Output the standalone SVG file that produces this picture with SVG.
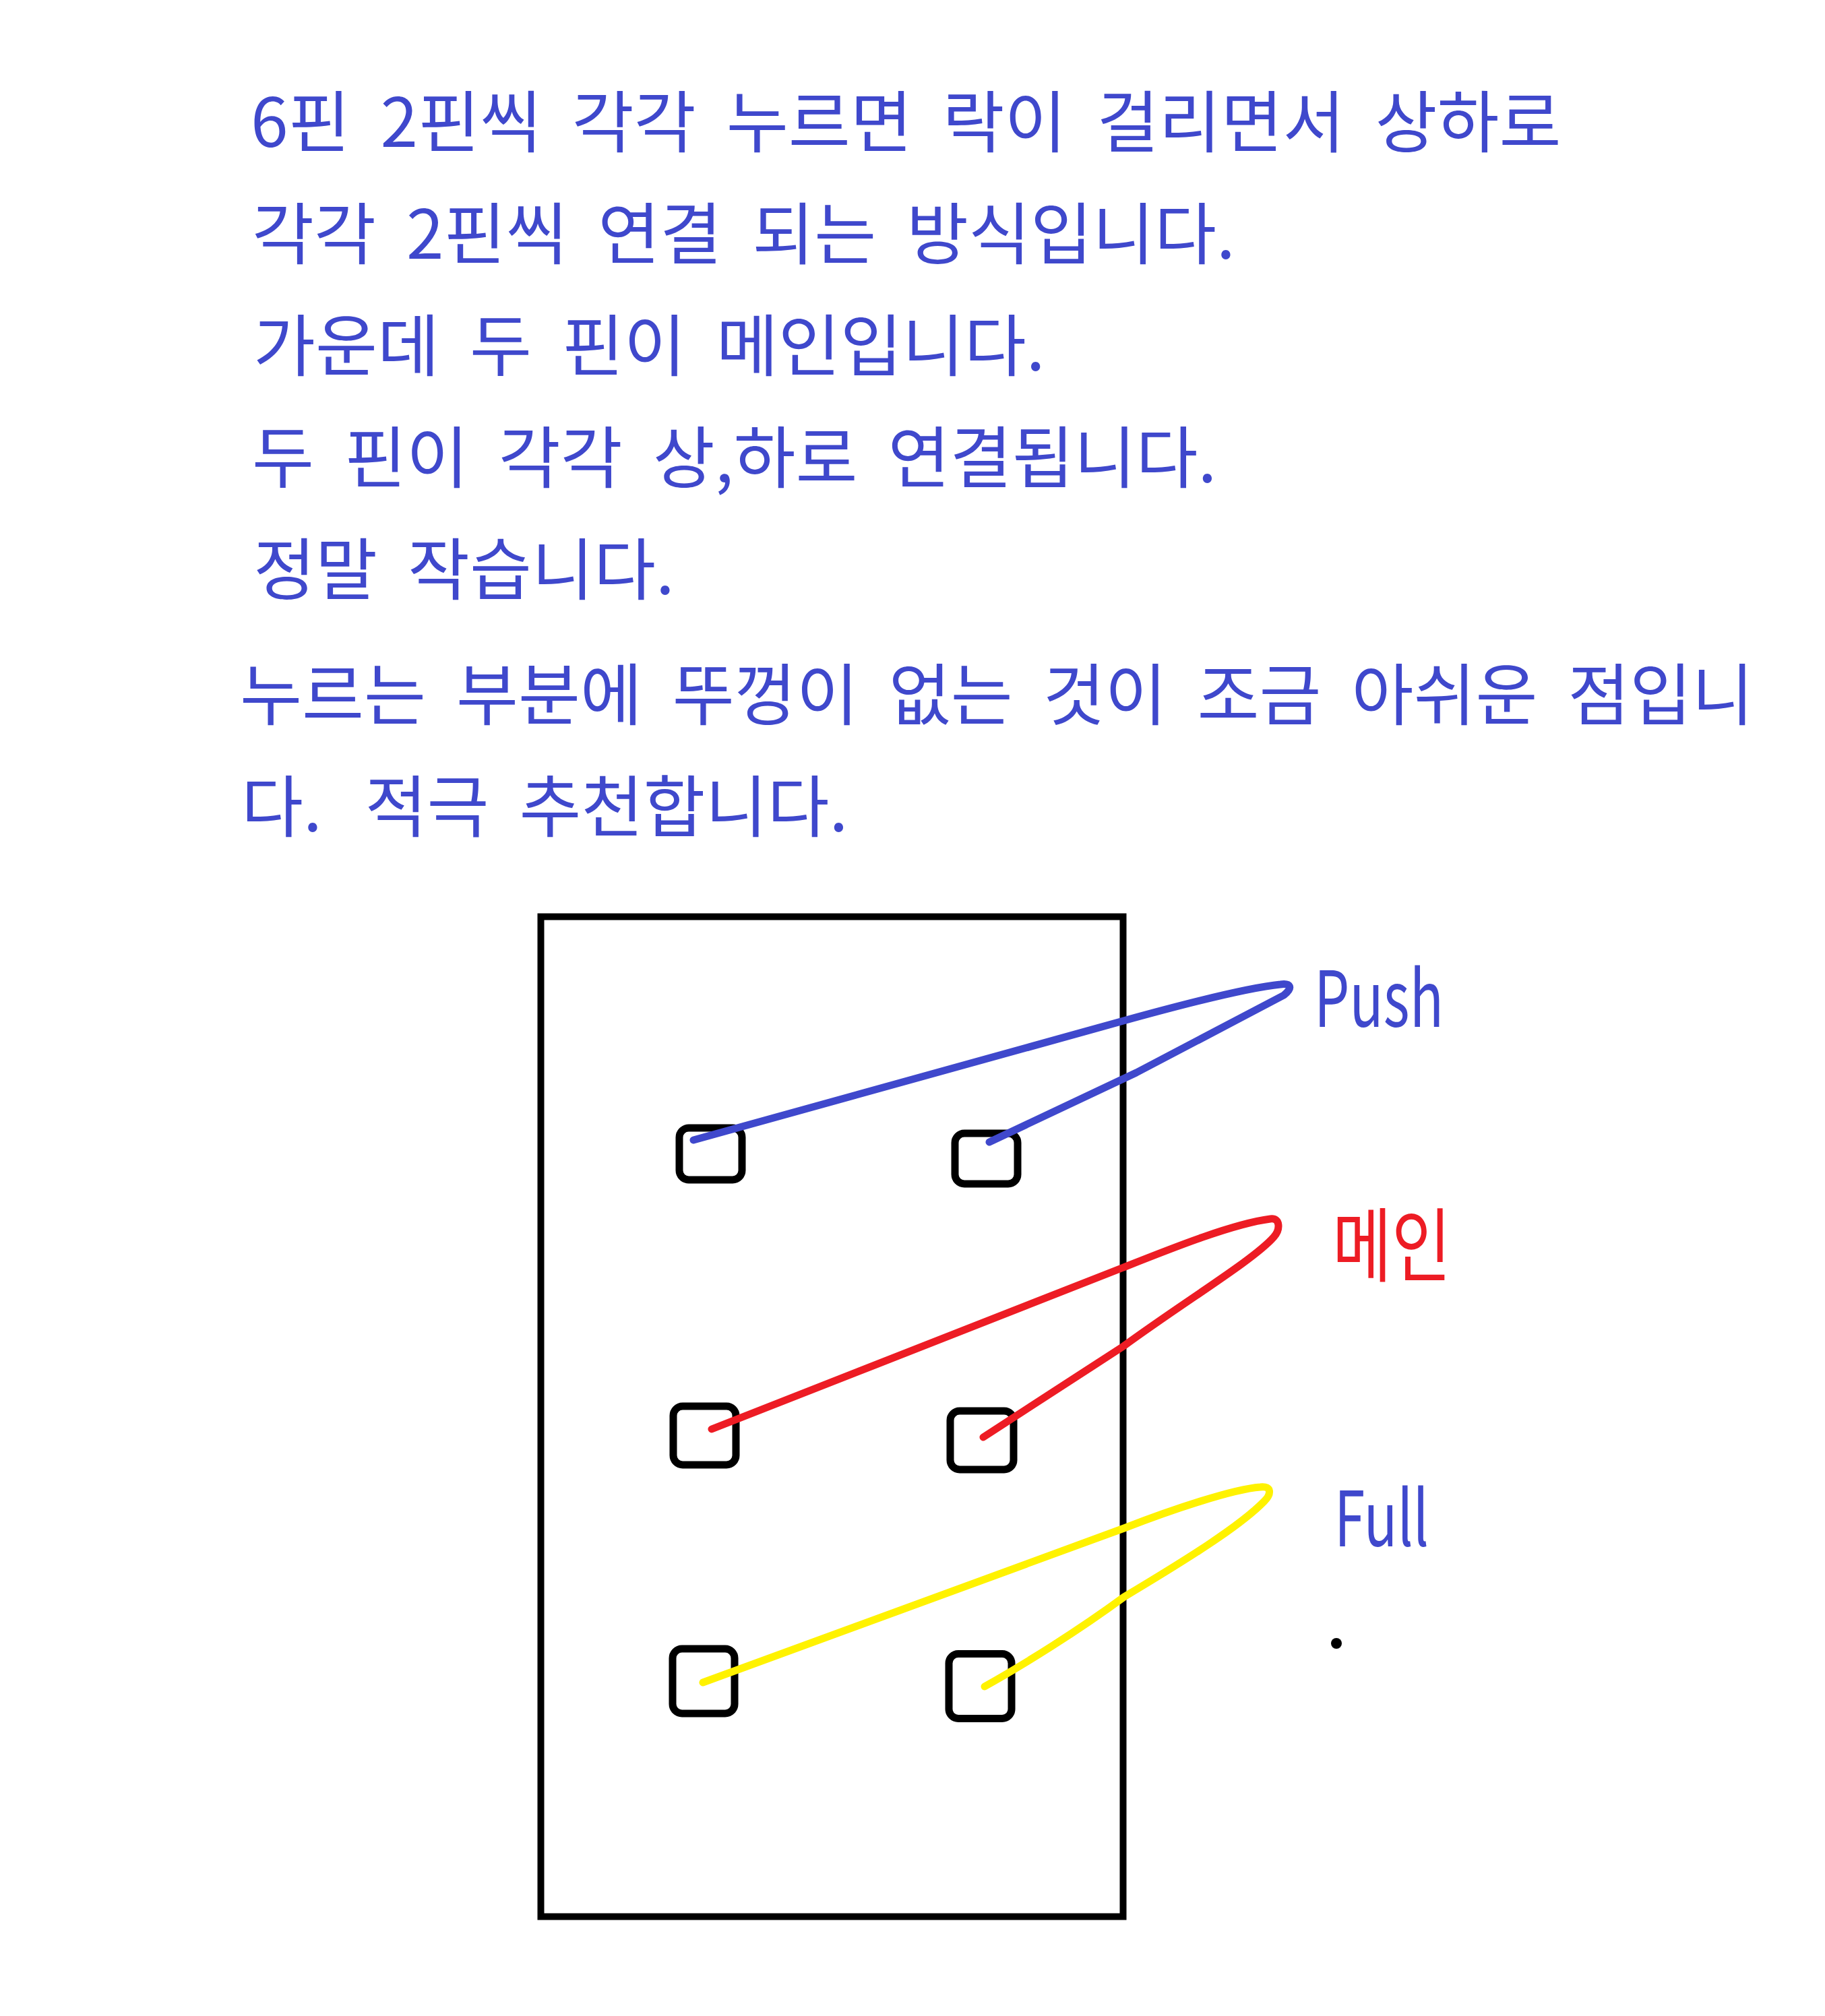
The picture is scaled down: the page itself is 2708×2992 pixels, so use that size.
<svg xmlns="http://www.w3.org/2000/svg" width="2708" height="2992" viewBox="0 0 2708 2992">
<style>
.t{font-family:"Noto Sans CJK KR","Noto Sans",sans-serif;font-size:100px;fill:#3f48cc;font-weight:400;word-spacing:22.5px;white-space:pre}
.l{font-family:"Noto Sans CJK KR","Noto Sans",sans-serif;fill:#3f48cc;font-weight:400}
.box{fill:none;stroke:#000;stroke-width:10}
.pin{fill:none;stroke:#000;stroke-width:11}
.w{fill:none;stroke-width:11;stroke-linecap:round;stroke-linejoin:round}
</style>
<rect width="2708" height="2992" fill="#fff"/>
<g id="text">
<text class="t" x="372" y="218">6핀 2핀씩 각각 누르면 락이 걸리면서 상하로</text>
<text class="t" x="374" y="384">각각 2핀씩 연결 되는 방식입니다.</text>
<text class="t" x="376" y="550">가운데 두 핀이 메인입니다.</text>
<text class="t" x="374" y="716">두 핀이 각각 상,하로 연결됩니다.</text>
<text class="t" x="376" y="882">정말 작습니다.</text>
<text class="t" x="356" y="1068">누르는 부분에 뚜껑이 없는 것이 조금 아쉬운 점입니</text>
<text class="t" x="358" y="1234"><tspan style="word-spacing:9.5px">다.  </tspan>적극 추천합니다.</text>
</g>
<g id="body"><rect class="box" x="802.5" y="1360.5" width="864" height="1484"/></g>
<g id="pins">
<rect id="pin1" class="pin" x="1008" y="1674" width="93" height="77" rx="14"/>
<rect id="pin2" class="pin" x="1417" y="1682" width="93" height="75" rx="14"/>
<rect id="pin3" class="pin" x="999" y="2087" width="93" height="87" rx="14"/>
<rect id="pin4" class="pin" x="1410" y="2094" width="94" height="87" rx="14"/>
<rect id="pin5" class="pin" x="998" y="2447" width="92" height="96" rx="14"/>
<rect id="pin6" class="pin" x="1408" y="2454.5" width="93" height="96" rx="14"/>
</g>
<g id="connectors">
<path class="w" stroke="#3f48cc" d="M1029 1692L1667 1515C1750 1492 1850 1466 1900 1461C1914 1459 1920 1465 1905 1477L1686 1592L1468 1695"/>
<path class="w" stroke="#ed1c24" d="M1056 2121L1667 1881C1740 1852 1830 1816 1885 1809C1900 1807 1900 1825 1890 1836C1860 1870 1760 1930 1667 1998L1459 2133"/>
<path class="w" stroke="#fff200" d="M1043 2497L1668 2268C1740 2240 1830 2210 1870 2207C1888 2205 1886 2218 1876 2228C1840 2265 1760 2315 1668 2370C1600 2420 1520 2470 1461 2503"/>
</g>
<g id="labels">
<text class="l" x="1950" y="1524" font-size="115" textLength="192" lengthAdjust="spacingAndGlyphs">Push</text>
<text class="l" x="1977" y="1893" font-size="120" textLength="176" lengthAdjust="spacingAndGlyphs" style="fill:#ed1c24">메인</text>
<text class="l" x="1980" y="2295" font-size="113" textLength="140" lengthAdjust="spacingAndGlyphs">Full</text>
<circle cx="1983" cy="2439" r="8" fill="#000"/>
</g>
</svg>
